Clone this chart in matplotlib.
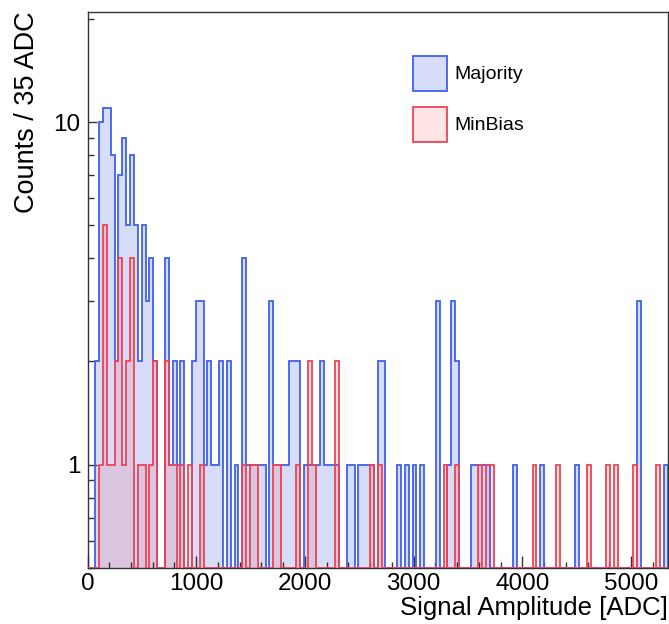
import matplotlib
matplotlib.use('Agg')
import matplotlib.pyplot as plt
import numpy as np
from matplotlib.patches import Patch
from matplotlib.ticker import LogLocator, NullFormatter, MultipleLocator

plt.rcParams['font.family'] = ['Liberation Sans', 'DejaVu Sans']

# histogram range, 150 bins
X_MAX = 5340
N_BINS = 150
Y_MIN, Y_MAX = 0.5, 21

# counts per bin
majority = [
    0, 0, 2, 10, 11, 11, 8, 2, 7, 9,
    5, 8, 5, 2, 5, 3, 4, 2, 0, 0,
    4, 1, 2, 1, 2, 0, 0, 2, 3, 3,
    1, 2, 1, 1, 2, 0, 2, 0, 1, 0,
    4, 1, 1, 1, 1, 1, 0, 3, 1, 1,
    1, 1, 2, 2, 2, 0, 1, 1, 1, 1,
    2, 1, 1, 1, 1, 0, 0, 1, 1, 0,
    1, 1, 1, 1, 0, 2, 2, 0, 0, 0,
    1, 0, 1, 0, 1, 0, 1, 0, 0, 0,
    3, 0, 0, 1, 3, 2, 0, 0, 0, 1,
    1, 1, 1, 1, 0, 0, 0, 0, 0, 0,
    1, 0, 0, 0, 0, 0, 0, 1, 0, 0,
    0, 0, 0, 0, 0, 0, 1, 0, 0, 0,
    0, 0, 0, 0, 0, 0, 0, 0, 0, 0,
    0, 0, 3, 0, 0, 0, 0, 0, 0, 1,
]
minbias = [
    0, 0, 0, 1, 5, 1, 1, 2, 4, 1,
    2, 4, 0, 1, 1, 0, 1, 2, 0, 0,
    2, 1, 1, 0, 1, 0, 1, 0, 0, 1,
    0, 0, 0, 0, 0, 0, 0, 0, 0, 0,
    1, 0, 1, 1, 0, 0, 0, 0, 1, 1,
    0, 0, 0, 0, 1, 0, 0, 2, 1, 0,
    0, 0, 0, 0, 2, 0, 0, 0, 0, 0,
    0, 0, 0, 1, 0, 1, 0, 0, 0, 0,
    0, 0, 0, 0, 0, 0, 0, 0, 0, 0,
    0, 0, 1, 0, 0, 1, 0, 0, 0, 0,
    0, 1, 0, 1, 1, 0, 0, 0, 0, 0,
    0, 0, 0, 0, 0, 1, 0, 0, 0, 0,
    0, 1, 0, 0, 0, 0, 0, 0, 0, 1,
    0, 0, 0, 0, 1, 0, 1, 0, 0, 0,
    0, 1, 0, 0, 0, 0, 0, 1, 0, 0,
]

edges = np.linspace(0, X_MAX, N_BINS + 1)
maj = np.array(majority, dtype=float)
mb = np.array(minbias, dtype=float)
# empty bins drop to the bottom of the frame, like ROOT does on log y
maj_plot = np.where(maj > 0, maj, Y_MIN)
mb_plot = np.where(mb > 0, mb, Y_MIN)

blue_fill = '#d7ddf9'
blue_line = '#4060f0'
red_fill = (1.0, 0.0, 0.0, 0.1)
red_line = '#f04252'

fig = plt.figure(figsize=(6.69, 6.24), dpi=100)
ax = fig.add_axes([0.1308, 0.0902, 0.8677, 0.8911])

ax.stairs(maj_plot, edges, baseline=Y_MIN, fill=True, color=blue_fill, zorder=1)
ax.stairs(maj_plot, edges, baseline=Y_MIN, color=blue_line, lw=1.3, zorder=3)
ax.stairs(mb_plot, edges, baseline=Y_MIN, fill=True, color=red_fill, zorder=3.1)
ax.stairs(mb_plot, edges, baseline=Y_MIN, color=red_line, lw=1.3, zorder=3.2)

ax.set_xlim(0, X_MAX)
ax.set_yscale('log')
ax.set_ylim(Y_MIN, Y_MAX)

ax.xaxis.set_major_locator(MultipleLocator(1000))
ax.xaxis.set_minor_locator(MultipleLocator(200))
ax.set_yticks([1, 10], ['1', '10'])
ax.yaxis.set_minor_locator(LogLocator(base=10, subs=np.arange(2, 10)))
ax.yaxis.set_minor_formatter(NullFormatter())

ax.tick_params(which='both', direction='in', top=False, right=False,
               labelsize=17.5, color='#333333', width=1)
ax.tick_params(axis='x', which='major', length=8.5, pad=4)
ax.tick_params(axis='x', which='minor', length=4.3)
ax.tick_params(axis='y', which='major', length=6.5, pad=5)
ax.tick_params(axis='y', which='minor', length=4)

for s in ax.spines.values():
    s.set_color('#333333')
    s.set_linewidth(1)

ax.set_xlabel('Signal Amplitude [ADC]', fontsize=18.5, loc='right')
ax.xaxis.set_label_coords(1.0, -0.05)
ax.set_ylabel('Counts / 35 ADC', fontsize=19.5, loc='top')
ax.yaxis.set_label_coords(-0.082, 1.0)

handles = [
    Patch(facecolor=blue_fill, edgecolor=blue_line, lw=1.3, label='Majority'),
    Patch(facecolor=red_fill, edgecolor=red_line, lw=1.3, label='MinBias'),
]
ax.legend(handles=handles, loc='upper left', bbox_to_anchor=(0.561, 0.921),
          frameon=False, fontsize=14, handlelength=1.72, handleheight=2.4,
          handletextpad=0.4, labelspacing=0.82, borderpad=0, borderaxespad=0)

fig.savefig('out.png', dpi=100)
